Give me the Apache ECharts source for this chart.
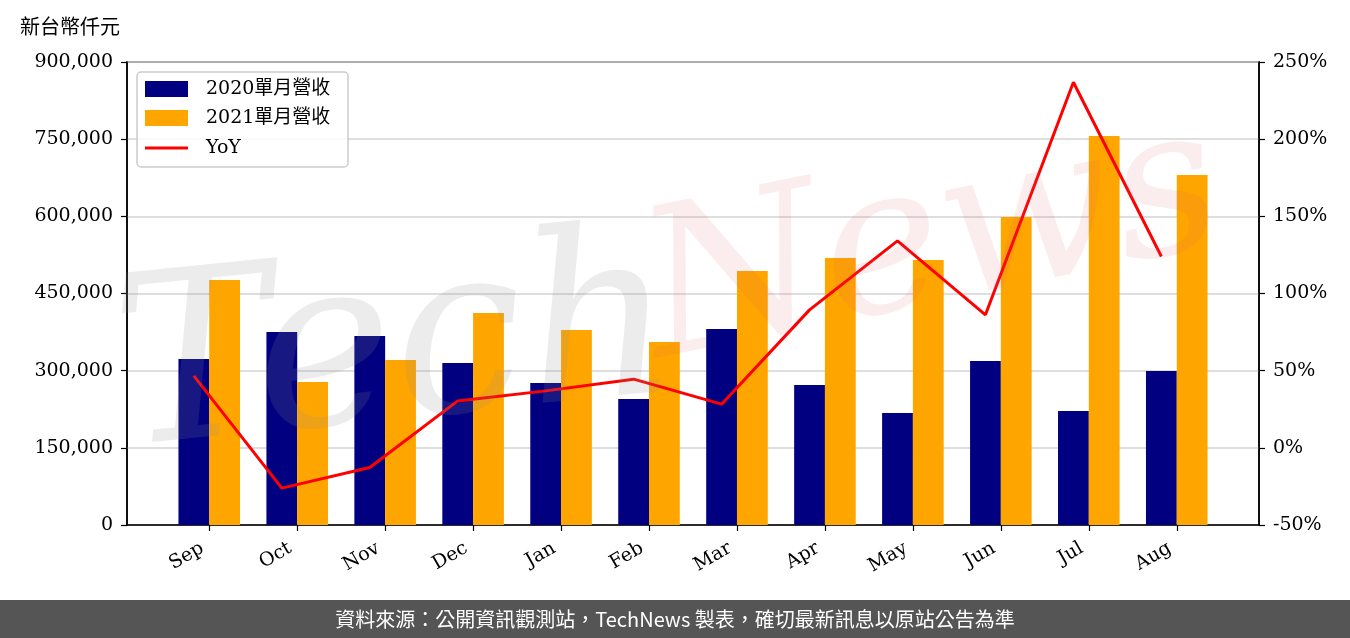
<!DOCTYPE html>
<html>
<head>
<meta charset="utf-8">
<script src="https://cdn.jsdelivr.net/npm/echarts@6/dist/echarts.min.js"></script>
<style>
html,body{margin:0;padding:0;background:#fff;}
#main{width:1350px;height:638px;}
</style>
</head>
<body>
<div id="main"></div>
<script>
const months = ['Sep','Oct','Nov','Dec','Jan','Feb','Mar','Apr','May','Jun','Jul','Aug'];
const rev2020 = [322700, 375200, 367400, 314900, 276000, 244900, 381000, 272100, 217700, 318800, 221600, 299300];
const rev2021 = [476200, 278000, 320700, 412100, 379000, 355700, 493700, 519000, 515100, 598700, 756100, 680300];
const yoy = [46.6, -26.1, -12.7, 30.4, 36.9, 44.5, 28.3, 89.4, 134.1, 86.2, 236.9, 124.0];
const leftTicks = {min: 0, max: 900000, interval: 150000};
const rightTicks = {min: -50, max: 250, interval: 50};
const seriesNames = ['2020單月營收', '2021單月營收', 'YoY'];
const seriesColors = ['#000080', '#FFA500', '#FF0000'];
const titleText = '新台幣仟元';
const footerText = '資料來源：公開資訊觀測站，TechNews 製表，確切最新訊息以原站公告為準';

// layout constants (matplotlib-like)
const barUnits = 0.35;            // bar width in category units
const half = barUnits / 2;
const margin = 0.05 * (months.length - 1 + 2 * barUnits);
const xMin = -barUnits - margin, xMax = months.length - 1 + barUnits + margin;
const gridL = 127, gridR = 91, gridT = 62, gridB = 113;
const gridW = 1350 - gridL - gridR;
const barPx = gridW / (xMax - xMin) * barUnits;

const idx = months.map((m, i) => i);
const serif = 'DejaVu Serif';
const cjk = '"Noto Sans CJK TC"';

// hand-built legend (matplotlib style box)
const legendX = 137, legendY = 72, rowY = [89, 118, 148];
const legendGraphics = [
  {type: 'rect', z: 50, shape: {x: legendX, y: legendY, width: 211, height: 95, r: 4},
   style: {fill: 'rgba(255,255,255,0.85)', stroke: '#cccccc', lineWidth: 1.5}}
];
seriesNames.forEach((name, i) => {
  if (i < 2) {
    legendGraphics.push({type: 'rect', z: 51, shape: {x: 145, y: rowY[i] - 8, width: 43, height: 16}, style: {fill: seriesColors[i]}});
  } else {
    legendGraphics.push({type: 'line', z: 51, shape: {x1: 145, y1: rowY[i], x2: 188, y2: rowY[i]}, style: {stroke: seriesColors[i], lineWidth: 3}});
  }
  legendGraphics.push({type: 'text', z: 51, x: 206, y: rowY[i],
    style: {text: name, font: '19px ' + serif + ', ' + cjk, fill: '#000', textVerticalAlign: 'middle'}});
});

const chart = echarts.init(document.getElementById('main'), null, {renderer: 'canvas'});
chart.setOption({
  animation: false,
  backgroundColor: '#fff',
  grid: {left: gridL, right: gridR, top: gridT, bottom: gridB, show: true, borderColor: '#000', borderWidth: 1.5, backgroundColor: 'transparent'},
  xAxis: {
    type: 'value', min: xMin, max: xMax,
    axisLine: {show: true, onZero: false, lineStyle: {color: '#000', width: 1.5}},
    axisTick: {show: true, customValues: idx, length: 6, lineStyle: {color: '#000', width: 1.2}},
    axisLabel: {customValues: idx, formatter: v => months[Math.round(v)], rotate: 30, fontFamily: serif, fontSize: 19, color: '#000', margin: 18, padding: [0, 8, 0, 0]},
    splitLine: {show: false}
  },
  yAxis: [{
    type: 'value', min: leftTicks.min, max: leftTicks.max, interval: leftTicks.interval,
    axisLine: {show: true, onZero: false, lineStyle: {color: '#000', width: 1.5}},
    axisTick: {show: true, length: 6, lineStyle: {color: '#000', width: 1.2}},
    axisLabel: {formatter: v => v.toLocaleString('en-US'), fontFamily: serif, fontSize: 19, color: '#000', margin: 14},
    splitLine: {show: true, lineStyle: {color: '#d3d3d3', width: 1.5}}
  }, {
    type: 'value', min: rightTicks.min, max: rightTicks.max, interval: rightTicks.interval,
    position: 'right',
    axisLine: {show: true, onZero: false, lineStyle: {color: '#000', width: 1.5}},
    axisTick: {show: true, length: 6, lineStyle: {color: '#000', width: 1.2}},
    axisLabel: {formatter: v => v + '%', fontFamily: serif, fontSize: 19, color: '#000', margin: 14},
    splitLine: {show: false}
  }],
  series: [{
    name: seriesNames[0], type: 'bar', yAxisIndex: 0,
    barWidth: barPx, barGap: '-100%',
    itemStyle: {color: seriesColors[0]},
    data: rev2020.map((v, i) => [i - half, v])
  }, {
    name: seriesNames[1], type: 'bar', yAxisIndex: 0,
    barWidth: barPx, barGap: '-100%',
    itemStyle: {color: seriesColors[1]},
    data: rev2021.map((v, i) => [i + half, v])
  }, {
    name: seriesNames[2], type: 'line', yAxisIndex: 1,
    symbol: 'none',
    lineStyle: {color: seriesColors[2], width: 3},
    itemStyle: {color: seriesColors[2]},
    data: yoy.map((v, i) => [i - half, v]),
    z: 5
  }],
  graphic: [
    {type: 'text', left: 20, top: 16, style: {text: titleText, font: '20px ' + cjk, fill: '#000'}},
    {type: 'text', silent: true, z: 40, x: 118, y: 384, rotation: 0.1,
     style: {text: 'Tech', font: 'italic 235px "DejaVu Serif"', fill: 'rgba(140,140,140,0.17)', textVerticalAlign: 'middle'}},
    {type: 'text', silent: true, z: 40, x: 648, y: 305, rotation: 0.2,
     style: {text: 'News', font: 'italic 205px "DejaVu Serif"', fill: 'rgba(220,90,90,0.11)', textVerticalAlign: 'middle'}},
    ...legendGraphics,
    {type: 'rect', shape: {x: 0, y: 600, width: 1350, height: 38}, style: {fill: '#555555'}, z: 100},
    {type: 'text', z: 101, x: 675, y: 619, style: {text: footerText, font: '20px ' + cjk, fill: '#fff', textAlign: 'center', textVerticalAlign: 'middle'}}
  ]
});
</script>
</body>
</html>
